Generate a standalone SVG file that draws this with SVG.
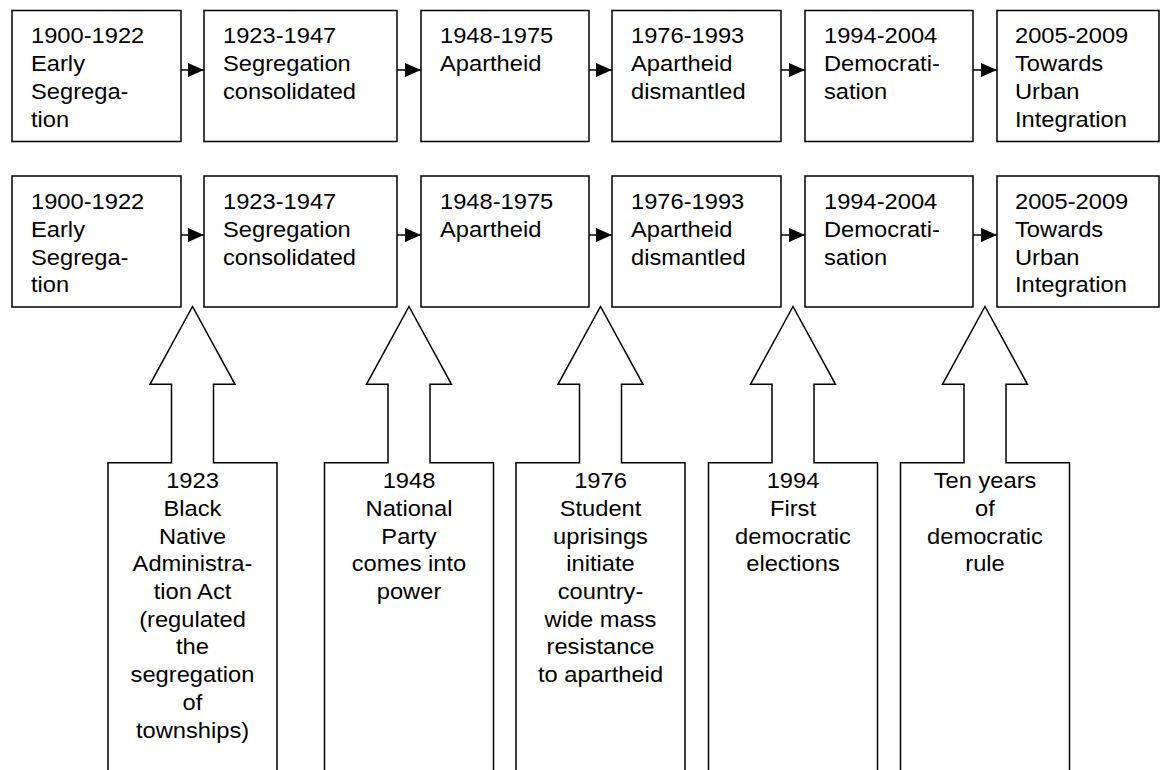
<svg xmlns="http://www.w3.org/2000/svg" width="1161" height="770" viewBox="0 0 1161 770">
<style>
.box{fill:#fff;stroke:#000;stroke-width:1.5}
.call{fill:#fff;stroke:#000;stroke-width:1.5;stroke-linejoin:miter}
.t{font-family:"Liberation Sans",Arial,sans-serif;font-size:22px;fill:#000}
.c{text-anchor:middle}
.conn{stroke:#000;stroke-width:1.5;fill:none;marker-end:url(#ah)}
</style>
<defs>
<marker id="ah" markerUnits="userSpaceOnUse" markerWidth="16" markerHeight="14" refX="16" refY="7" orient="auto">
<path d="M0,0 L16,7 L0,14 Z" fill="#000"/>
</marker>
</defs>
<rect width="1161" height="770" fill="#fff"/>
<g id="connectors">
<line class="conn" x1="181" y1="70" x2="204" y2="70"/>
<line class="conn" x1="397" y1="70" x2="421" y2="70"/>
<line class="conn" x1="589" y1="70" x2="612" y2="70"/>
<line class="conn" x1="781" y1="70" x2="805" y2="70"/>
<line class="conn" x1="973" y1="70" x2="997" y2="70"/>
<line class="conn" x1="181" y1="235" x2="204" y2="235"/>
<line class="conn" x1="397" y1="235" x2="421" y2="235"/>
<line class="conn" x1="589" y1="235" x2="612" y2="235"/>
<line class="conn" x1="781" y1="235" x2="805" y2="235"/>
<line class="conn" x1="973" y1="235" x2="997" y2="235"/>
</g>
<g id="r1-1"><rect class="box" x="12" y="10.5" width="169" height="131"/>
<text class="t" transform="translate(31,43.3) scale(1.077,1)"><tspan x="0">1900-1922</tspan><tspan x="0" dy="27.8">Early</tspan><tspan x="0" dy="27.8">Segrega-</tspan><tspan x="0" dy="27.8">tion</tspan></text></g>
<g id="r1-2"><rect class="box" x="204" y="10.5" width="193" height="131"/>
<text class="t" transform="translate(223,43.3) scale(1.077,1)"><tspan x="0">1923-1947</tspan><tspan x="0" dy="27.8">Segregation</tspan><tspan x="0" dy="27.8">consolidated</tspan></text></g>
<g id="r1-3"><rect class="box" x="421" y="10.5" width="168" height="131"/>
<text class="t" transform="translate(440,43.3) scale(1.077,1)"><tspan x="0">1948-1975</tspan><tspan x="0" dy="27.8">Apartheid</tspan></text></g>
<g id="r1-4"><rect class="box" x="612" y="10.5" width="169" height="131"/>
<text class="t" transform="translate(631,43.3) scale(1.077,1)"><tspan x="0">1976-1993</tspan><tspan x="0" dy="27.8">Apartheid</tspan><tspan x="0" dy="27.8">dismantled</tspan></text></g>
<g id="r1-5"><rect class="box" x="805" y="10.5" width="168" height="131"/>
<text class="t" transform="translate(824,43.3) scale(1.077,1)"><tspan x="0">1994-2004</tspan><tspan x="0" dy="27.8">Democrati-</tspan><tspan x="0" dy="27.8">sation</tspan></text></g>
<g id="r1-6"><rect class="box" x="997" y="10.5" width="162" height="131"/>
<text class="t" transform="translate(1015,43.3) scale(1.077,1)"><tspan x="0">2005-2009</tspan><tspan x="0" dy="27.8">Towards</tspan><tspan x="0" dy="27.8">Urban</tspan><tspan x="0" dy="27.8">Integration</tspan></text></g>

<g id="r2-1"><rect class="box" x="12" y="176" width="169" height="131"/>
<text class="t" transform="translate(31,209) scale(1.077,1)"><tspan x="0">1900-1922</tspan><tspan x="0" dy="27.8">Early</tspan><tspan x="0" dy="27.8">Segrega-</tspan><tspan x="0" dy="27.8">tion</tspan></text></g>
<g id="r2-2"><rect class="box" x="204" y="176" width="193" height="131"/>
<text class="t" transform="translate(223,209) scale(1.077,1)"><tspan x="0">1923-1947</tspan><tspan x="0" dy="27.8">Segregation</tspan><tspan x="0" dy="27.8">consolidated</tspan></text></g>
<g id="r2-3"><rect class="box" x="421" y="176" width="168" height="131"/>
<text class="t" transform="translate(440,209) scale(1.077,1)"><tspan x="0">1948-1975</tspan><tspan x="0" dy="27.8">Apartheid</tspan></text></g>
<g id="r2-4"><rect class="box" x="612" y="176" width="169" height="131"/>
<text class="t" transform="translate(631,209) scale(1.077,1)"><tspan x="0">1976-1993</tspan><tspan x="0" dy="27.8">Apartheid</tspan><tspan x="0" dy="27.8">dismantled</tspan></text></g>
<g id="r2-5"><rect class="box" x="805" y="176" width="168" height="131"/>
<text class="t" transform="translate(824,209) scale(1.077,1)"><tspan x="0">1994-2004</tspan><tspan x="0" dy="27.8">Democrati-</tspan><tspan x="0" dy="27.8">sation</tspan></text></g>
<g id="r2-6"><rect class="box" x="997" y="176" width="162" height="131"/>
<text class="t" transform="translate(1015,209) scale(1.077,1)"><tspan x="0">2005-2009</tspan><tspan x="0" dy="27.8">Towards</tspan><tspan x="0" dy="27.8">Urban</tspan><tspan x="0" dy="27.8">Integration</tspan></text></g>

<g id="ev-1923">
<polygon class="call" points="108,780 108,462.7 171.5,462.7 171.5,384.3 150,384.3 192.5,306.5 235,384.3 213.5,384.3 213.5,462.7 277,462.7 277,780"/>
<text class="t c" transform="translate(192.5,488.3) scale(1.077,1)"><tspan x="0">1923</tspan><tspan x="0" dy="27.7">Black</tspan><tspan x="0" dy="27.7">Native</tspan><tspan x="0" dy="27.7">Administra-</tspan><tspan x="0" dy="27.7">tion Act</tspan><tspan x="0" dy="27.7">(regulated</tspan><tspan x="0" dy="27.7">the</tspan><tspan x="0" dy="27.7">segregation</tspan><tspan x="0" dy="27.7">of</tspan><tspan x="0" dy="27.7">townships)</tspan></text>
</g>
<g id="ev-1948">
<polygon class="call" points="324.5,780 324.5,462.7 388,462.7 388,384.3 366.5,384.3 409,306.5 451.5,384.3 430,384.3 430,462.7 493.5,462.7 493.5,780"/>
<text class="t c" transform="translate(409,488.3) scale(1.077,1)"><tspan x="0">1948</tspan><tspan x="0" dy="27.7">National</tspan><tspan x="0" dy="27.7">Party</tspan><tspan x="0" dy="27.7">comes into</tspan><tspan x="0" dy="27.7">power</tspan></text>
</g>
<g id="ev-1976">
<polygon class="call" points="516,780 516,462.7 579.5,462.7 579.5,384.3 558,384.3 600.5,306.5 643,384.3 621.5,384.3 621.5,462.7 685,462.7 685,780"/>
<text class="t c" transform="translate(600.5,488.3) scale(1.077,1)"><tspan x="0">1976</tspan><tspan x="0" dy="27.7">Student</tspan><tspan x="0" dy="27.7">uprisings</tspan><tspan x="0" dy="27.7">initiate</tspan><tspan x="0" dy="27.7">country-</tspan><tspan x="0" dy="27.7">wide mass</tspan><tspan x="0" dy="27.7">resistance</tspan><tspan x="0" dy="27.7">to apartheid</tspan></text>
</g>
<g id="ev-1994">
<polygon class="call" points="708.5,780 708.5,462.7 772,462.7 772,384.3 750.5,384.3 793,306.5 835.5,384.3 814,384.3 814,462.7 877.5,462.7 877.5,780"/>
<text class="t c" transform="translate(793,488.3) scale(1.077,1)"><tspan x="0">1994</tspan><tspan x="0" dy="27.7">First</tspan><tspan x="0" dy="27.7">democratic</tspan><tspan x="0" dy="27.7">elections</tspan></text>
</g>
<g id="ev-ten">
<polygon class="call" points="900.5,780 900.5,462.7 964,462.7 964,384.3 942.5,384.3 985,306.5 1027.5,384.3 1006,384.3 1006,462.7 1069.5,462.7 1069.5,780"/>
<text class="t c" transform="translate(985,488.3) scale(1.077,1)"><tspan x="0">Ten years</tspan><tspan x="0" dy="27.7">of</tspan><tspan x="0" dy="27.7">democratic</tspan><tspan x="0" dy="27.7">rule</tspan></text>
</g>
</svg>
